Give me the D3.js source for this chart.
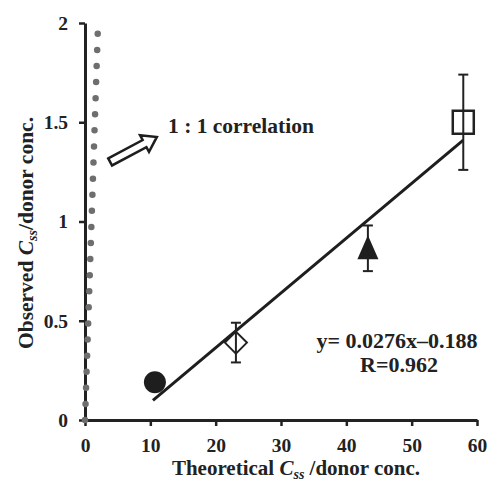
<!DOCTYPE html>
<html>
<head>
<meta charset="utf-8">
<script src="https://cdn.jsdelivr.net/npm/d3@7"></script>
<style>
  html, body { margin: 0; padding: 0; background: #fff; }
  svg text { font-family: "Liberation Serif", "Times New Roman", serif; font-weight: bold; fill: #222; }
</style>
</head>
<body>
<svg id="chart" width="493" height="483"></svg>
<script>
// data
const xValues = [10.7, 23.1, 43.3, 57.9];
const yValues = [0.19, 0.39, 0.86, 1.50];
const errLow  = [null, 0.29, 0.75, 1.26];
const errHigh = [null, 0.49, 0.98, 1.74];
const symbols = ['circle', 'diamond', 'triangle', 'square'];

const xTicks = [0, 10, 20, 30, 40, 50, 60];
const yTicks = [0, 0.5, 1, 1.5, 2];
const yTickLabels = ['0', '0.5', '1', '1.5', '2'];

const oneToOne = [[0, 0], [1.95, 1.95]];
const slope = 0.0276, intercept = -0.188;
const fitRange = [10.4, 57.9];

const svg = d3.select('#chart');
const x = d3.scaleLinear().domain([0, 60]).range([85, 477]);
const y = d3.scaleLinear().domain([0, 2]).range([420, 23]);

// axes
const xAxis = svg.append('g')
  .attr('transform', `translate(0,${y(0)})`)
  .call(d3.axisBottom(x).tickValues(xTicks).tickSize(6).tickSizeOuter(0).tickPadding(12));
const yAxis = svg.append('g')
  .attr('transform', `translate(${x(0)},0)`)
  .call(d3.axisLeft(y).tickValues(yTicks).tickFormat((d, i) => yTickLabels[i]).tickSize(6).tickSizeOuter(0).tickPadding(11));

[xAxis, yAxis].forEach(g => {
  g.select('.domain').attr('stroke', '#222').attr('stroke-width', 3);
  g.selectAll('.tick line').attr('stroke', '#222').attr('stroke-width', 2.5);
  g.selectAll('.tick text').style('font-size', '19.5px').attr('fill', '#222');
});

// 1:1 dotted line
svg.append('line')
  .attr('x1', x(oneToOne[0][0])).attr('y1', y(oneToOne[0][1]))
  .attr('x2', x(oneToOne[1][0])).attr('y2', y(oneToOne[1][1]))
  .attr('stroke', '#6e6e6e').attr('stroke-width', 6.5)
  .attr('stroke-linecap', 'round').attr('stroke-dasharray', '0,16.1');

// regression line
svg.append('line')
  .attr('x1', x(fitRange[0])).attr('y1', y(slope * fitRange[0] + intercept))
  .attr('x2', x(fitRange[1])).attr('y2', y(slope * fitRange[1] + intercept))
  .attr('stroke', '#1e1e1e').attr('stroke-width', 3);

// error bars
xValues.forEach((xv, i) => {
  if (errLow[i] === null) return;
  const g = svg.append('g').attr('stroke', '#222').attr('stroke-width', 2);
  g.append('line').attr('x1', x(xv)).attr('x2', x(xv)).attr('y1', y(errLow[i])).attr('y2', y(errHigh[i]));
  [errLow[i], errHigh[i]].forEach(v => {
    g.append('line').attr('x1', x(xv) - 5).attr('x2', x(xv) + 5).attr('y1', y(v)).attr('y2', y(v));
  });
});

// markers
xValues.forEach((xv, i) => {
  const cx = x(xv), cy = y(yValues[i]);
  const s = symbols[i];
  if (s === 'circle') {
    svg.append('circle').attr('cx', cx).attr('cy', cy).attr('r', 11).attr('fill', '#1e1e1e');
  } else if (s === 'diamond') {
    svg.append('path')
      .attr('d', `M${cx},${cy - 11}L${cx + 11},${cy}L${cx},${cy + 11}L${cx - 11},${cy}Z`)
      .attr('fill', 'none').attr('stroke', '#222').attr('stroke-width', 2);
  } else if (s === 'triangle') {
    svg.append('path')
      .attr('d', `M${cx},${cy - 14}L${cx + 10.5},${cy + 10}L${cx - 10.5},${cy + 10}Z`)
      .attr('fill', '#1e1e1e');
  } else if (s === 'square') {
    svg.append('rect').attr('x', cx - 10.5).attr('y', cy - 11.5).attr('width', 21).attr('height', 23)
      .attr('fill', 'none').attr('stroke', '#222').attr('stroke-width', 2.5);
  }
});

// hollow arrow pointing at the 1:1 line label
const tail = [x(3.85), y(1.30)], tip = [x(11.0), y(1.426)];
const ang = Math.atan2(tip[1] - tail[1], tip[0] - tail[0]) * 180 / Math.PI;
const len = Math.hypot(tip[0] - tail[0], tip[1] - tail[1]);
svg.append('path')
  .attr('transform', `translate(${tail[0]},${tail[1]}) rotate(${ang})`)
  .attr('d', `M0,-4L${len - 14},-4L${len - 14},-9.5L${len},0L${len - 14},9.5L${len - 14},4L0,4Z`)
  .attr('fill', '#fff').attr('stroke', '#1e1e1e').attr('stroke-width', 2.5).attr('stroke-linejoin', 'miter');

svg.append('text').attr('x', 168).attr('y', 133).style('font-size', '21.5px').text('1 : 1 correlation');

// equation
svg.append('text').attr('x', 397).attr('y', 348).attr('text-anchor', 'middle').style('font-size', '22px')
  .text('y= 0.0276x\u20130.188');
svg.append('text').attr('x', 399).attr('y', 372).attr('text-anchor', 'middle').style('font-size', '22px')
  .text('R=0.962');

// axis titles
const xt = svg.append('text').attr('x', 296).attr('y', 475).attr('text-anchor', 'middle').style('font-size', '21px');
xt.append('tspan').text('Theoretical ');
xt.append('tspan').style('font-style', 'italic').text('C');
xt.append('tspan').style('font-style', 'italic').style('font-size', '14px').attr('dy', 4).text('ss');
xt.append('tspan').attr('dy', -4).text(' /donor conc.');

const yt = svg.append('text').attr('transform', 'translate(33,233) rotate(-90)').attr('text-anchor', 'middle').style('font-size', '21.5px');
yt.append('tspan').text('Observed ');
yt.append('tspan').style('font-style', 'italic').text('C');
yt.append('tspan').style('font-style', 'italic').style('font-size', '14px').attr('dy', 4).text('ss');
yt.append('tspan').attr('dy', -4).text('/donor conc.');
</script>
</body>
</html>
